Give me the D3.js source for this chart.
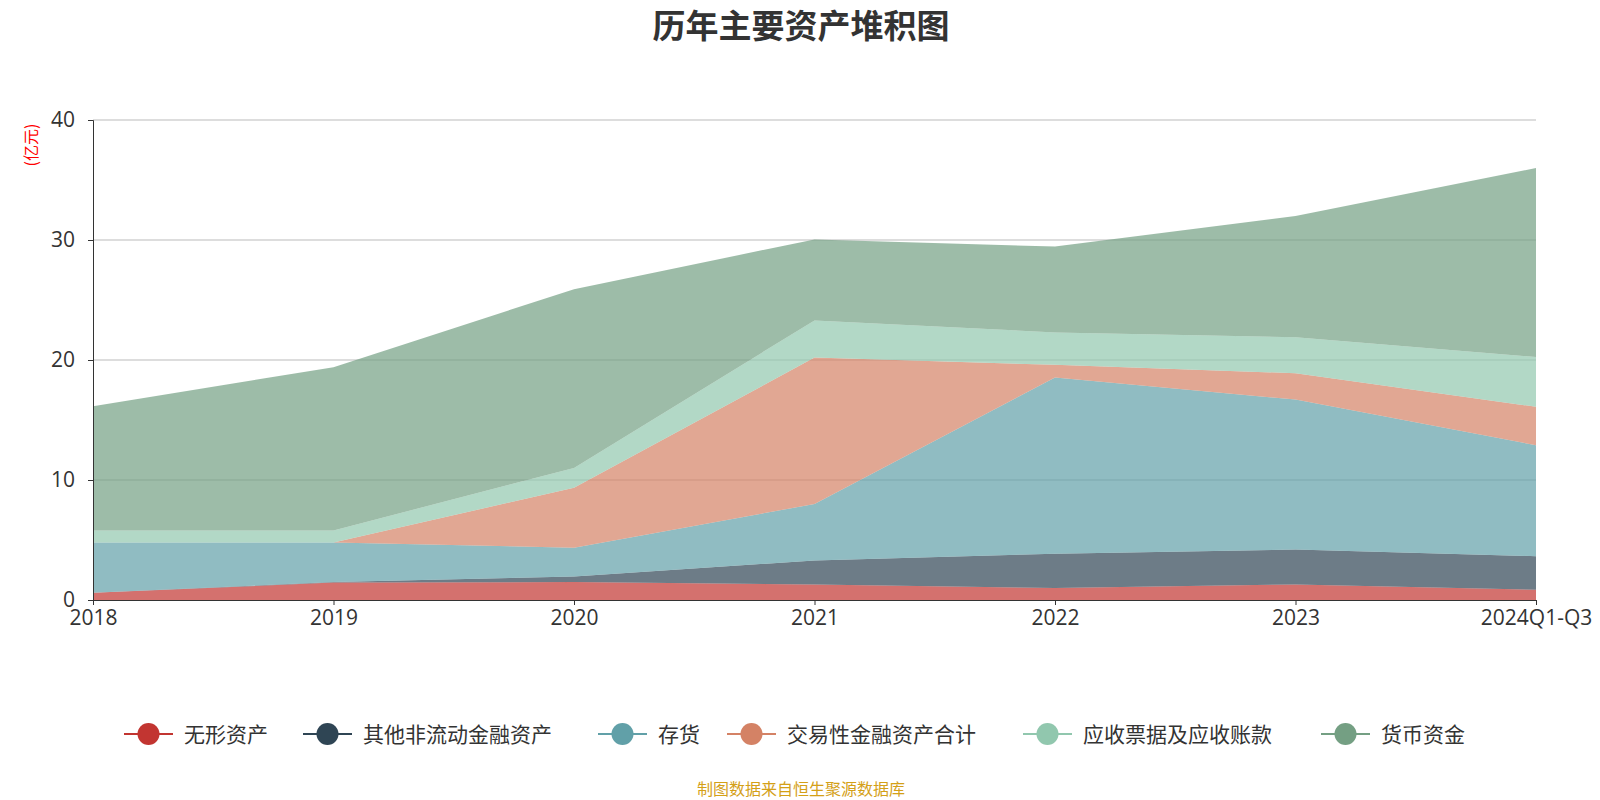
<!DOCTYPE html><html><head><meta charset="utf-8"><script src="https://cdn.jsdelivr.net/npm/d3@7"></script>
<style>body{margin:0;background:#fff;font-family:"Noto Sans CJK SC","Noto Sans",sans-serif}</style></head><body><svg id="c" width="1600" height="800"></svg><script>
const categories=["2018","2019","2020","2021","2022","2023","2024Q1-Q3"];
const seriesNames=["无形资产","其他非流动金融资产","存货","交易性金融资产合计","应收票据及应收账款","货币资金"];
const wuxing=[0.6,1.45,1.5,1.3,1.0,1.3,0.85];
const qita=[0,0.05,0.45,2.0,2.85,2.9,2.8];
const cunhuo=[4.2,3.3,2.4,4.7,14.7,12.5,9.25];
const jiaoyi=[0,0,5.0,12.2,1.05,2.2,3.2];
const yingshou=[1.0,1.0,1.65,3.1,2.7,3.0,4.15];
const huobi=[10.35,13.6,14.9,6.75,7.15,10.1,15.75];
const yTicks=[0,10,20,30,40];
const colors=["#c23531","#2f4554","#61a0a8","#d48265","#91c7ae","#749f83"];
const series=[wuxing,qita,cunhuo,jiaoyi,yingshou,huobi];
const svg=d3.select("#c");
const x=d3.scalePoint().domain(categories).range([93,1536]);
const y=d3.scaleLinear().domain([0,40]).range([600,120]);
svg.append("text").attr("x",801).attr("y",38).attr("text-anchor","middle").attr("font-size",33).attr("font-weight","bold").attr("fill","#333").text("历年主要资产堆积图");
svg.append("g").selectAll("line").data(yTicks.slice(1)).join("line").attr("x1",93).attr("x2",1536).attr("y1",d=>y(d)).attr("y2",d=>y(d)).attr("stroke","#bbb");
const data=categories.map((c,i)=>{const o={c};series.forEach((s,j)=>o[j]=s[i]);return o;});
const stack=d3.stack().keys(series.map((s,j)=>j))(data);
const area=d3.area().x(d=>x(d.data.c)).y0(d=>y(d[0])).y1(d=>y(d[1]));
svg.append("g").selectAll("path").data(stack).join("path").attr("d",area).attr("fill",(d,i)=>colors[i]).attr("fill-opacity",0.7);
const ya=svg.append("g").attr("transform","translate(93,0)").call(d3.axisLeft(y).tickValues(yTicks).tickSize(5).tickFormat(d3.format("d")));
const xa=svg.append("g").attr("transform","translate(0,600)").call(d3.axisBottom(x).tickSize(5));
[ya,xa].forEach(a=>{a.selectAll("text").attr("font-size",21).attr("fill","#333").attr("font-family","Open Sans, sans-serif");a.selectAll("path,line").attr("stroke","#333");});
ya.selectAll("text").attr("x",-18);xa.selectAll("text").attr("y",10);
svg.append("text").attr("transform","translate(37,145) rotate(-90)").attr("text-anchor","middle").attr("font-size",16).attr("fill","red").text("(亿元)");
const lx=[124,303,598,727,1023,1321];
const lg=svg.append("g").selectAll("g").data(seriesNames).join("g").attr("transform",(d,i)=>`translate(${lx[i]},734)`);
lg.append("line").attr("x1",0).attr("x2",49).attr("stroke",(d,i)=>colors[i]).attr("stroke-width",2);
lg.append("circle").attr("cx",24.5).attr("r",11).attr("fill",(d,i)=>colors[i]);
lg.append("text").attr("x",60).attr("y",8).attr("font-size",21).attr("fill","#333").text(d=>d);
svg.append("text").attr("x",801).attr("y",795).attr("text-anchor","middle").attr("font-size",16).attr("fill","#d4a017").text("制图数据来自恒生聚源数据库");
</script></body></html>
